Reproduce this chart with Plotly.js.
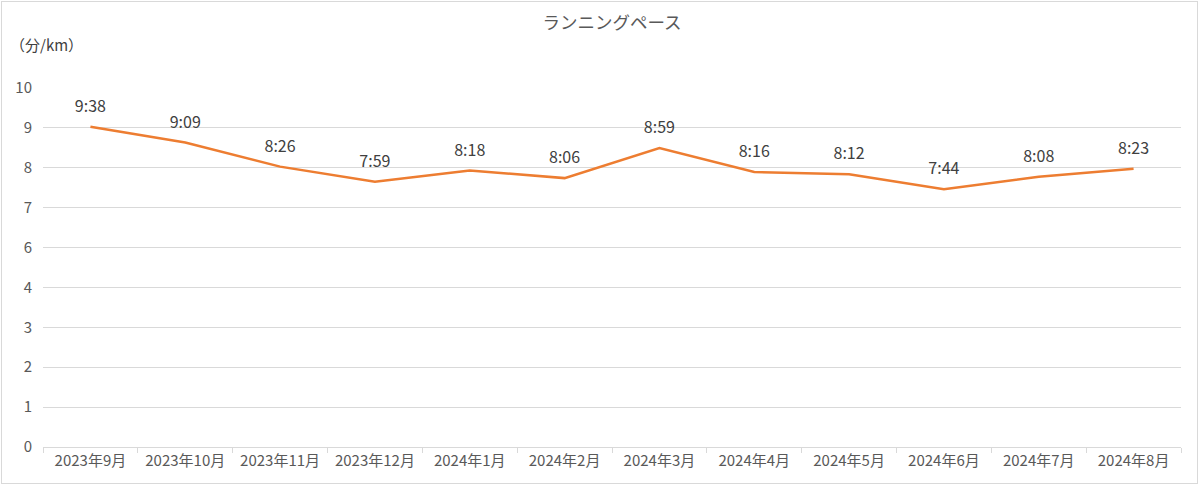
<!DOCTYPE html>
<html>
<head>
<meta charset="utf-8">
<script src="https://cdn.plot.ly/plotly-3.0.1.min.js"></script>
<style>
  html, body { margin: 0; padding: 0; background: #fff; }
  #wrap { position: relative; width: 1200px; height: 485px; }
  #graph { width: 1200px; height: 485px; }
  #frame { position: absolute; left: 1px; top: 1px; width: 1195px; height: 481px;
           border: 1px solid #d9d9d9; pointer-events: none; }
</style>
</head>
<body>
<div id="wrap">
  <div id="graph"></div>
  <div id="frame"></div>
</div>
<script>
const months = ['2023年9月', '2023年10月', '2023年11月', '2023年12月', '2024年1月', '2024年2月',
                '2024年3月', '2024年4月', '2024年5月', '2024年6月', '2024年7月', '2024年8月'];
const pace = [8.92, 8.48, 7.81, 7.39, 7.70, 7.49, 8.33, 7.66, 7.60, 7.18, 7.53, 7.75];
const paceLabels = ['9:38', '9:09', '8:26', '7:59', '8:18', '8:06',
                    '8:59', '8:16', '8:12', '7:44', '8:08', '8:23'];
const yTickText = ['0', '1', '2', '3', '4', '6', '7', '8', '9', '10'];

const fontFamily = '"Noto Sans CJK JP", "Noto Sans", sans-serif';
const textColor = '#595959';

// gridlines are evenly spaced over 0-10, labels rounded as in the source
const yTickVals = yTickText.map((_, i) => i * 10 / (yTickText.length - 1));

const trace = {
    x: months,
    y: pace,
    mode: 'lines+markers+text',
    line: { color: '#ED7D31', width: 2.5 },
    marker: { size: 16, opacity: 0, color: '#ED7D31' },
    text: paceLabels,
    textposition: 'top center',
    textfont: { family: fontFamily, size: 16, color: '#404040' },
    hoverinfo: 'none',
    cliponaxis: false,
};

const layout = {
    width: 1200,
    height: 485,
    margin: { l: 43, r: 19, t: 88, b: 38, pad: 0 },
    paper_bgcolor: '#fff',
    plot_bgcolor: '#fff',
    showlegend: false,
    font: { family: fontFamily, color: textColor, size: 15 },
    title: {
        text: 'ランニングペース',
        font: { family: fontFamily, size: 17.5, color: textColor },
        x: 0.5,
        xref: 'paper',
        y: 0.953,
        yref: 'container',
        yanchor: 'middle',
        automargin: false,
    },
    xaxis: {
        type: 'category',
        range: [-0.5, months.length - 0.5],
        automargin: false,
        showgrid: false,
        showline: true,
        linecolor: '#d9d9d9',
        linewidth: 1,
        ticks: 'outside',
        tickson: 'boundaries',
        ticklen: 5,
        tickcolor: '#d9d9d9',
        tickfont: { family: fontFamily, size: 15, color: textColor },
        fixedrange: true,
    },
    yaxis: {
        range: [0, 10],
        automargin: false,
        tickvals: yTickVals,
        ticktext: yTickText,
        showgrid: true,
        gridcolor: '#d9d9d9',
        gridwidth: 1,
        zeroline: false,
        showline: false,
        ticks: '',
        ticklabelstandoff: 10,
        tickfont: { family: fontFamily, size: 15, color: textColor },
        fixedrange: true,
    },
    annotations: [{
        text: '（分/km）',
        xref: 'paper', yref: 'paper',
        x: -0.031, y: 1.12,
        xanchor: 'left', yanchor: 'middle',
        showarrow: false,
        font: { family: fontFamily, size: 15, color: '#404040' },
    }],
};

const config = { staticPlot: true, displayModeBar: false };

Plotly.newPlot('graph', [trace], layout, config);
</script>
</body>
</html>
